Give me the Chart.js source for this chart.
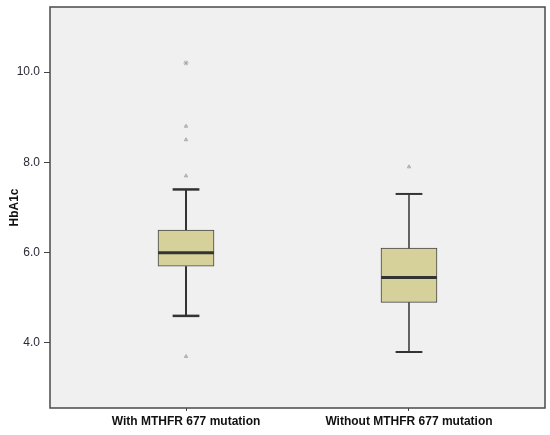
<!DOCTYPE html>
<html>
<head>
<meta charset="utf-8">
<script src="https://cdn.jsdelivr.net/npm/chart.js@4"></script>
<style>
  html, body { margin: 0; padding: 0; background: #fff; }
  #wrap { width: 550px; height: 435px; }
</style>
</head>
<body>
<div id="wrap"><canvas id="myChart" width="550" height="435"></canvas></div>
<script>
const categories = ['With MTHFR 677 mutation', 'Without MTHFR 677 mutation'];
const whiskerLow = [4.6, 3.8];
const q1 = [5.7, 4.9];
const median = [6.0, 5.45];
const q3 = [6.5, 6.1];
const whiskerHigh = [7.4, 7.3];
const outliers = [[3.7, 7.7, 8.5, 8.8], [7.9]];
const extremes = [[10.2], []];
const yTicks = [4, 6, 8, 10];

const boxHalf = 0.125;
const capHalf = 0.06;
const lineColor = '#333333';

const datasets = [];

datasets.push({
  type: 'bar',
  data: categories.map((c, i) => ({ x: i + 1, y: [q1[i], q3[i]] })),
  backgroundColor: '#d6d19b',
  borderColor: '#444444',
  borderWidth: 1,
  borderSkipped: false,
  barThickness: 56,
  order: 3
});

function seg(points, width) {
  datasets.push({
    type: 'line',
    data: points,
    borderColor: lineColor,
    borderWidth: width,
    pointRadius: 0,
    fill: false,
    order: 1
  });
}

categories.forEach((c, i) => {
  const x = i + 1;
  const w = i === 0 ? 2 : 1.5;
  seg([{ x: x, y: whiskerLow[i] }, { x: x, y: q1[i] }], w);
  seg([{ x: x, y: q3[i] }, { x: x, y: whiskerHigh[i] }], w);
  seg([{ x: x - capHalf, y: whiskerLow[i] }, { x: x + capHalf, y: whiskerLow[i] }], w + 0.5);
  seg([{ x: x - capHalf, y: whiskerHigh[i] }, { x: x + capHalf, y: whiskerHigh[i] }], w + 0.5);
  seg([{ x: x - boxHalf, y: median[i] }, { x: x + boxHalf, y: median[i] }], 3);
  datasets.push({
    type: 'scatter',
    data: outliers[i].map(v => ({ x: x, y: v })),
    pointStyle: 'triangle',
    pointRadius: 2,
    backgroundColor: '#bdbdbd',
    borderColor: '#b0b0b0',
    borderWidth: 1,
    order: 0
  });
  datasets.push({
    type: 'scatter',
    data: extremes[i].map(v => ({ x: x, y: v })),
    pointStyle: 'star',
    pointRadius: 2.5,
    borderColor: '#a8a8a8',
    borderWidth: 1,
    order: 0
  });
});

const plotFrame = {
  id: 'plotFrame',
  beforeDatasetsDraw(chart) {
    const { ctx, chartArea: a } = chart;
    ctx.save();
    ctx.fillStyle = '#f0f0f0';
    ctx.fillRect(a.left, a.top, a.right - a.left, a.bottom - a.top);
    ctx.restore();
  },
  afterDraw(chart) {
    const { ctx, chartArea: a } = chart;
    ctx.save();
    ctx.strokeStyle = '#4a4a4a';
    ctx.lineWidth = 1.5;
    ctx.strokeRect(a.left, a.top, a.right - a.left, a.bottom - a.top);
    ctx.restore();
  }
};

const ctx = document.getElementById('myChart');

new Chart(ctx, {
  type: 'bar',
  data: { datasets: datasets },
  plugins: [plotFrame],
  options: {
    responsive: false,
    animation: false,
    layout: { padding: { top: 7, right: 5, left: 0, bottom: 0 } },
    plugins: {
      legend: { display: false },
      tooltip: { enabled: false }
    },
    scales: {
      x: {
        type: 'linear',
        offset: false,
        min: 0.39,
        max: 2.61,
        afterBuildTicks: (scale) => { scale.ticks = categories.map((c, i) => ({ value: i + 1 })); },
        afterFit: (scale) => { scale.height = 27; scale.paddingLeft = 0; scale.paddingRight = 0; },
        grid: { offset: false, drawOnChartArea: false, tickLength: 3, color: '#444' },
        border: { display: false },
        ticks: {
          callback: (v) => categories[v - 1],
          maxRotation: 0,
          padding: 3,
          color: '#111',
          font: { family: 'Liberation Sans', size: 12, weight: 'bold' }
        }
      },
      y: {
        min: 2.56,
        max: 11.44,
        afterBuildTicks: (scale) => { scale.ticks = yTicks.map(v => ({ value: v })); },
        afterFit: (scale) => { scale.width = 50; scale.paddingTop = 0; scale.paddingBottom = 0; },
        grid: { drawOnChartArea: false, tickLength: 6, color: '#444' },
        border: { display: false },
        title: {
          display: true,
          text: 'HbA1c',
          padding: { top: 7, bottom: 0 },
          color: '#111',
          font: { family: 'Liberation Sans', size: 12, weight: 'bold' }
        },
        ticks: {
          callback: (v) => v.toFixed(1),
          padding: 4,
          color: '#2b2b3a',
          font: { family: 'Liberation Sans', size: 12 }
        }
      }
    }
  }
});
</script>
</body>
</html>
